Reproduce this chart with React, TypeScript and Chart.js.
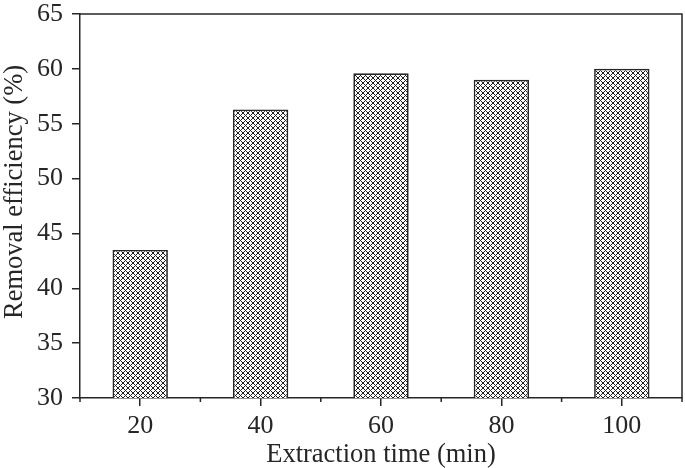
import React, { useEffect, useRef } from "react";
import { Chart, registerables } from "chart.js";

Chart.register(...registerables);

const categories = ["20", "40", "60", "80", "100"];
const removalEfficiency = [43.5, 56.3, 59.6, 59.0, 60.0];
const yTicks = [30, 35, 40, 45, 50, 55, 60, 65];
const xTitle = "Extraction time (min)";
const yTitle = "Removal efficiency (%)";

const INK = "#262626";
const FONT = "'Liberation Serif', 'Times New Roman', serif";

function makePattern(ctx: CanvasRenderingContext2D) {
  const S = 5;
  const c = document.createElement("canvas");
  c.width = S;
  c.height = S;
  const g = c.getContext("2d")!;
  g.fillStyle = "#ffffff";
  g.fillRect(0, 0, S, S);
  g.fillStyle = "#1e1e1e";
  for (let y = 0; y < S; y++) {
    for (let x = 0; x < S; x++) {
      if ((x - y + S) % S === 0 || (x + y) % S === 0) g.fillRect(x, y, 1, 1);
    }
  }
  return ctx.createPattern(c, "repeat")!;
}

const framePlugin = {
  id: "frameAndTitles",
  afterDraw(chart: any) {
    const { ctx, chartArea } = chart;
    const { left, right, top, bottom } = chartArea;
    const x = chart.scales.x;
    ctx.save();
    ctx.strokeStyle = INK;
    ctx.lineWidth = 1.5;
    ctx.beginPath();
    ctx.moveTo(left, top);
    ctx.lineTo(right, top);
    ctx.lineTo(right, bottom);
    for (let i = 0; i <= categories.length; i++) {
      const px = x.getPixelForValue(i - 0.5);
      ctx.moveTo(px, bottom);
      ctx.lineTo(px, bottom + 4);
    }
    ctx.stroke();

    ctx.fillStyle = INK;
    ctx.font = `26.5px ${FONT}`;
    ctx.textAlign = "center";
    ctx.textBaseline = "alphabetic";
    ctx.fillText(xTitle, (left + right) / 2, 462);

    ctx.translate(22, 192);
    ctx.rotate(-Math.PI / 2);
    ctx.fillText(yTitle, 0, 0);
    ctx.restore();
  },
};

export default function App() {
  const ref = useRef<HTMLCanvasElement>(null);

  useEffect(() => {
    let chart: Chart | null = null;
    let cancelled = false;
    const build = () => {
      if (cancelled) return;
      const canvas = ref.current!;
      const ctx = canvas.getContext("2d")!;
      const pattern = makePattern(ctx);
      chart = new Chart(ctx, {
        type: "bar",
        data: {
          labels: categories,
          datasets: [
            {
              data: removalEfficiency,
              backgroundColor: pattern,
              borderColor: INK,
              borderWidth: 1.7,
              barPercentage: 0.46,
              categoryPercentage: 1,
            },
          ],
        },
        options: {
          responsive: false,
          animation: false,
          devicePixelRatio: 1,
          layout: { padding: { top: 14, right: 3, left: 0, bottom: 0 } },
          plugins: {
            legend: { display: false },
            tooltip: { enabled: false },
          },
          scales: {
            x: {
              offset: true,
              grid: {
                display: true,
                drawOnChartArea: false,
                offset: false,
                tickLength: 8,
                color: INK,
                lineWidth: 1.5,
              },
              border: { display: true, color: INK, width: 1.5 },
              ticks: {
                font: { family: FONT, size: 26 },
                color: INK,
                padding: 5,
                maxRotation: 0,
              },
              afterFit: (s: any) => {
                s.height = 70;
                s.paddingLeft = 0;
                s.paddingRight = 0;
              },
            },
            y: {
              min: 30,
              max: 65,
              afterBuildTicks: (s: any) => {
                s.ticks = yTicks.map((v) => ({ value: v }));
              },
              grid: {
                display: true,
                drawOnChartArea: false,
                tickLength: 8,
                color: INK,
                lineWidth: 1.5,
              },
              border: { display: true, color: INK, width: 1.5 },
              ticks: {
                font: { family: FONT, size: 26 },
                color: INK,
                padding: 9,
              },
              afterFit: (s: any) => {
                s.width = 80;
                s.paddingTop = 0;
                s.paddingBottom = 0;
              },
            },
          },
        },
        plugins: [framePlugin],
      });
    };
    const fontsApi = (document as any).fonts;
    if (fontsApi && fontsApi.load) {
      fontsApi.load(`24px "Liberation Serif"`).then(build, build);
    } else {
      build();
    }
    return () => {
      cancelled = true;
      if (chart) chart.destroy();
    };
  }, []);

  return (
    <div style={{ position: "fixed", left: 0, top: 0, width: 685, height: 468, background: "#fff" }}>
      <canvas ref={ref} width={685} height={468} />
    </div>
  );
}
